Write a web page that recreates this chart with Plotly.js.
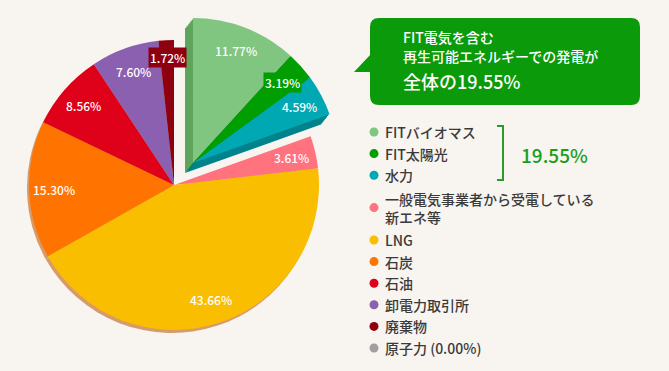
<!DOCTYPE html>
<html><head><meta charset="utf-8">
<script src="https://cdn.plot.ly/plotly-3.0.1.min.js"></script>
<style>html,body{margin:0;padding:0;background:#f8f4ef;}#chart{width:669px;height:371px;}</style>
</head><body><div id="chart"></div>
<script>
// ---- data ----
const labels = ['FITバイオマス','FIT太陽光','水力','一般電気事業者から受電している新エネ等','LNG','石炭','石油','卸電力取引所','廃棄物','原子力'];
const legendLabels = ['FITバイオマス','FIT太陽光','水力','一般電気事業者から受電している<br>新エネ等','LNG','石炭','石油','卸電力取引所','廃棄物','原子力 (0.00%)'];
const shares = [11.77, 3.19, 4.59, 3.61, 43.66, 15.30, 8.56, 7.60, 1.72, 0.00];
const pulledGroup = [true, true, true, false, false, false, false, false, false, false];
const groupTotal = 19.55;
const calloutLines = ['FIT電気を含む', '再生可能エネルギーでの発電が', '全体の'];

// ---- styles ----
const colors = ['#80c580','#009e00','#00a8b3','#ff727e','#fabe00','#ff7400','#df0019','#8b60b0','#8e0010','#a0a0a0'];
const sideColors = ['#5ea55e','#007800','#00838c','#ff727e','#fabe00','#ff7400','#df0019','#8b60b0','#8e0010','#a0a0a0'];
const boxedLabel = [false,true,false,false,false,false,false,false,true,false];
const BG = '#f8f4ef', GREEN = '#0a9a0a', FONT = '"Noto Sans CJK JP", "Noto Sans", sans-serif';

const W = 669, H = 371, R = 145;
const mainC = [174, 185], topC = [193, 163], baseC = [185, 173];
const px = x => x / W, py = y => 1 - y / H;
const dom = c => ({x: [px(c[0] - R), px(c[0] + R)], y: [py(c[1] + R), py(c[1] - R)]});
const CLEAR = 'rgba(0,0,0,0)';

function pie(c, colFn) {
  return {type: 'pie', values: shares, labels: labels, sort: false, direction: 'clockwise', rotation: 0,
    textinfo: 'none', hoverinfo: 'skip', showlegend: false, domain: dom(c),
    marker: {colors: shares.map((v, i) => colFn(i)), line: {width: 0}}};
}

const traces = [];
traces.push(pie([mainC[0] - 2, mainC[1] + 3], i => pulledGroup[i] ? CLEAR : '#d59b6c'));
traces.push(pie(mainC, i => pulledGroup[i] ? CLEAR : colors[i]));
for (let k = 0; k <= 6; k++) {
  const t = k / 7;
  traces.push(pie([baseC[0] + t * (topC[0] - baseC[0]), baseC[1] + t * (topC[1] - baseC[1])],
    i => pulledGroup[i] ? sideColors[i] : CLEAR));
}
traces.push(pie(topC, i => pulledGroup[i] ? colors[i] : CLEAR));

const annotations = [];
const shapes = [];
function note(x, y, text, font, extra) {
  annotations.push(Object.assign({xref: 'paper', yref: 'paper', x: px(x), y: py(y), xanchor: 'center', yanchor: 'middle',
    showarrow: false, text: text, font: Object.assign({family: FONT, weight: 500}, font)}, extra || {}));
}
// slice labels
let cum = 0;
shares.forEach((v, i) => {
  const mid = (cum + v / 2) / 100 * 2 * Math.PI;
  cum += v;
  if (v <= 0) return;
  const c = pulledGroup[i] ? topC : mainC;
  const rf = boxedLabel[i] && !pulledGroup[i] ? 0.88 : 0.83;
  const x = c[0] + rf * R * Math.sin(mid), y = c[1] - rf * R * Math.cos(mid);
  note(x, y, v.toFixed(2) + '%', {size: 12, color: '#ffffff'},
    boxedLabel[i] ? {bgcolor: colors[i], borderpad: 1} : {});
});

// callout box
function P(x, y) { return px(x).toFixed(5) + ',' + py(y).toFixed(5); }
function roundRect(x0, y0, x1, y1, r) {
  return 'M' + P(x0 + r, y0) + ' L' + P(x1 - r, y0) + ' Q' + P(x1, y0) + ' ' + P(x1, y0 + r) +
    ' L' + P(x1, y1 - r) + ' Q' + P(x1, y1) + ' ' + P(x1 - r, y1) +
    ' L' + P(x0 + r, y1) + ' Q' + P(x0, y1) + ' ' + P(x0, y1 - r) +
    ' L' + P(x0, y0 + r) + ' Q' + P(x0, y0) + ' ' + P(x0 + r, y0) + ' Z';
}
shapes.push({type: 'path', xref: 'paper', yref: 'paper', path: roundRect(370, 18, 640, 105, 9), fillcolor: GREEN, line: {width: 0}});
shapes.push({type: 'path', xref: 'paper', yref: 'paper', path: 'M' + P(354, 72) + ' L' + P(371, 54) + ' L' + P(371, 72) + ' Z', fillcolor: GREEN, line: {width: 0}});
note(401, 37, calloutLines[0], {size: 14, color: '#fff'}, {xanchor: 'left'});
note(401, 56, calloutLines[1], {size: 14, color: '#fff'}, {xanchor: 'left'});
note(401, 81, calloutLines[2] + groupTotal.toFixed(2) + '%', {size: 18, color: '#fff'}, {xanchor: 'left'});

// legend
const lineH = 21.6, legTop = 132;
let line = 0;
legendLabels.forEach((t, i) => {
  const n = t.split('<br>').length;
  const yc = legTop + (line + (n - 1) / 2) * lineH;
  line += n;
  shapes.push({type: 'circle', xref: 'paper', yref: 'paper', x0: px(369.5), x1: px(378.5), y0: py(yc - 4.5), y1: py(yc + 4.5),
    fillcolor: colors[i], line: {width: 0}});
  note(383, yc, t, {size: 14, color: '#3a3a3a'}, {xanchor: 'left', align: 'left'});
});
shapes.push({type: 'path', xref: 'paper', yref: 'paper', path: 'M' + P(497, 126) + ' L' + P(503, 126) + ' L' + P(503, 180) + ' L' + P(497, 180),
  line: {color: '#2a9a2a', width: 2}});
note(519, 154, groupTotal.toFixed(2) + '%', {size: 19, color: '#1a9e1a'}, {xanchor: 'left'});

Plotly.newPlot('chart', traces, {
  width: W, height: H, margin: {l: 0, r: 0, t: 0, b: 0},
  paper_bgcolor: BG, plot_bgcolor: BG, showlegend: false,
  shapes: shapes, annotations: annotations
}, {staticPlot: true});
</script></body></html>
